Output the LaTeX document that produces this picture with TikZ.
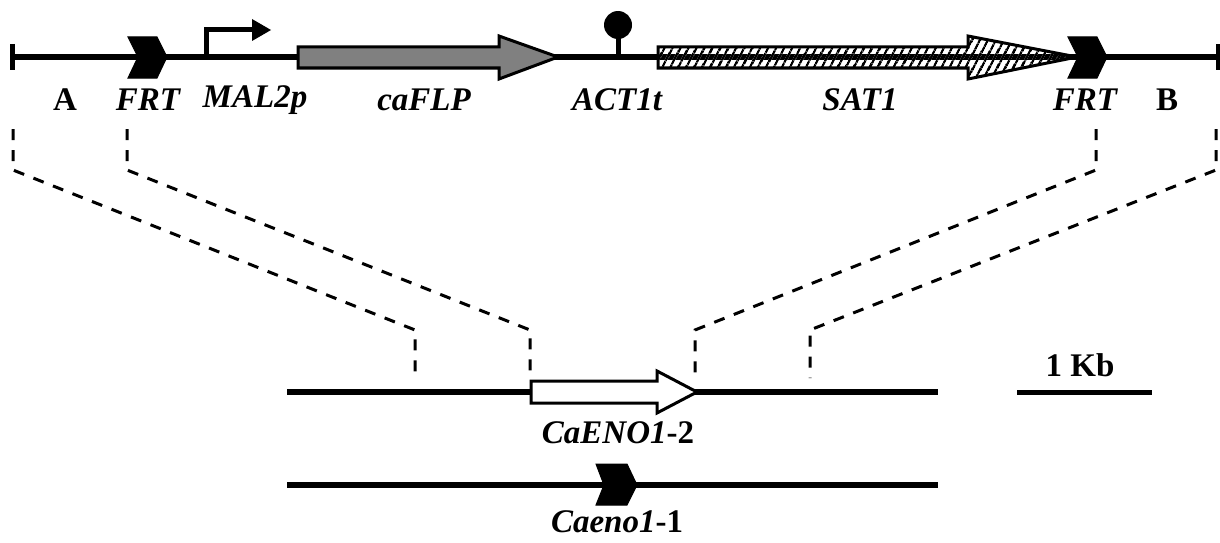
\documentclass[tikz,border=0pt]{standalone}
\usepackage{fontspec}
\setmainfont{Liberation Serif}
\usetikzlibrary{patterns.meta}
\tikzset{
  dna/.style={line width=6pt},
  endbar/.style={line width=5pt},
  dashconn/.style={line width=3pt, dash pattern=on 11pt off 10pt},
  genebox/.style={draw=black, line width=3pt, line join=miter},
  frt/.style={fill=black, draw=black, line width=1pt},
  lbl/.style={font=\fontsize{33}{33}\selectfont\bfseries\itshape, inner sep=0pt, anchor=center},
  lblup/.style={font=\fontsize{33}{33}\selectfont\bfseries, inner sep=0pt, anchor=center},
}
\begin{document}
\begin{tikzpicture}[x=1pt,y=-1pt]
\useasboundingbox (0,0) rectangle (1220,543);
% ---------- top construct ----------
\coordinate (L0) at (12,57);
\coordinate (R0) at (1218,57);
\draw[dna] (L0) -- (R0);
\draw[endbar] (12,44) -- (12,70);
\draw[endbar] (1218,44) -- (1218,70);
% FRT left
\path[frt] (128,37) -- (157,37) -- (167,57) -- (157,78) -- (128,78) -- (138,57) -- cycle;
% FRT right
\path[frt] (1068,37) -- (1097,37) -- (1107,57) -- (1097,78) -- (1068,78) -- (1078,57) -- cycle;
% promoter
\draw[line width=5pt, line cap=butt] (206,58) -- (206,30) -- (254,30);
\fill (252,19) -- (271,30) -- (252,41) -- cycle;
% caFLP arrow
\path[genebox, fill={rgb,255:red,128;green,128;blue,128}] (298,47) -- (499,47) -- (499,36) -- (558,57) -- (499,79) -- (499,68) -- (298,68) -- cycle;
% terminator
\draw[line width=5pt] (618,57) -- (618,35);
\fill (618,25) circle (14);
% SAT1 arrow hatched
\path[genebox, pattern={Lines[angle=62,distance=6.5pt,line width=2.6pt]}] (658,47) -- (968,47) -- (968,36) -- (1077,57) -- (968,79) -- (968,68) -- (658,68) -- cycle;
% labels
\node[lblup] (lA) at (65,100) {A};
\node[lbl] (lFRT1) at (148,100) {FRT};
\node[lbl] (lMAL) at (255,100) {MAL2p};
\node[lbl] (lFLP) at (424,100) {caFLP};
\node[lbl] (lACT) at (617,100) {ACT1t};
\node[lbl] (lSAT) at (860,100) {SAT1};
\node[lbl] (lFRT2) at (1085,100) {FRT};
\node[lblup] (lB) at (1167,100) {B};
% ---------- dashed connectors ----------
\coordinate (d1a) at (13,129);
\coordinate (d1b) at (13,170);
\coordinate (d1c) at (415,330);
\coordinate (d1d) at (415,378);
\coordinate (d2a) at (127,129);
\coordinate (d2b) at (127,170);
\coordinate (d2c) at (530,330);
\coordinate (d2d) at (530,378);
\coordinate (d3a) at (1096,129);
\coordinate (d3b) at (1096,170);
\coordinate (d3c) at (695,330);
\coordinate (d3d) at (695,378);
\coordinate (d4a) at (1216,129);
\coordinate (d4b) at (1216,170);
\coordinate (d4c) at (810,330);
\coordinate (d4d) at (810,378);
\draw[dashconn] (d1a) -- (d1b) -- (d1c) -- (d1d);
\draw[dashconn] (d2a) -- (d2b) -- (d2c) -- (d2d);
\draw[dashconn] (d3a) -- (d3b) -- (d3c) -- (d3d);
\draw[dashconn] (d4a) -- (d4b) -- (d4c) -- (d4d);
% ---------- CaENO1-2 allele ----------
\draw[dna] (287,392) -- (938,392);
\path[genebox, fill=white] (531,381) -- (657,381) -- (657,371) -- (697,392) -- (657,413) -- (657,403) -- (531,403) -- cycle;
\node[lbl] (lENO2) at (618,433) {CaENO1\textup{-2}};
% ---------- Caeno1-1 allele ----------
\draw[dna] (287,485) -- (938,485);
\path[frt] (596,464) -- (627,464) -- (637,485) -- (627,505) -- (596,505) -- (604,485) -- cycle;
\node[lbl] (lENO1) at (617,522) {Caeno1\textup{-1}};
% ---------- scale bar ----------
\draw[line width=5pt] (1017,392) -- (1152,392);
\node[lblup] (lKb) at (1080,365) {1 Kb};
\end{tikzpicture}
\end{document}
